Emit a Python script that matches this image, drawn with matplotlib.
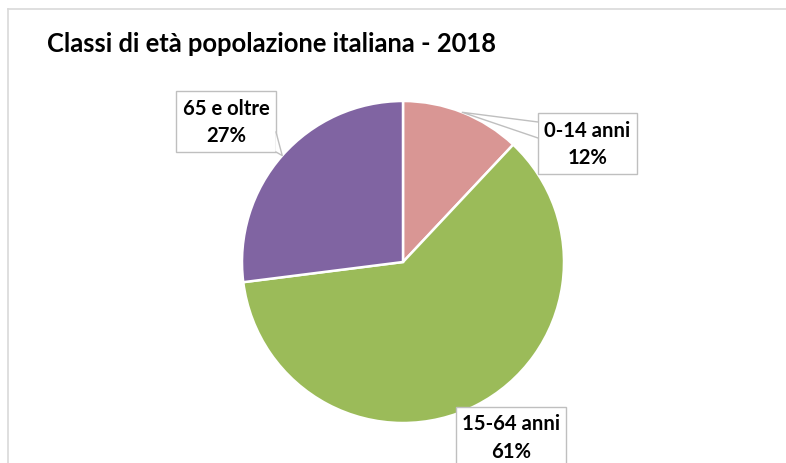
import numpy as np
import matplotlib

matplotlib.use("Agg")
import matplotlib.pyplot as plt
from matplotlib.patches import Rectangle, Polygon
from matplotlib.lines import Line2D

plt.rcParams["font.family"] = ["Lato", "DejaVu Sans"]

TITLE = "Classi di età popolazione italiana - 2018"
categories = ["0-14 anni", "15-64 anni", "65 e oltre"]
shares = [12, 61, 27]
colors = ["#D99694", "#9BBB59", "#8064A2"]

W, H = 786, 464
CX, CY, R = 403, 263, 161  # pie centre / radius in pixels

fig = plt.figure(figsize=(W / 100, H / 100), dpi=100)

# light chart frame (only top and left edges are visible)
fig.add_artist(Line2D([8 / W, 1], [1 - 10 / H, 1 - 10 / H], color="#D9D9D9", lw=1.2))
fig.add_artist(Line2D([8 / W, 8 / W], [0, 1 - 10 / H], color="#D9D9D9", lw=1.2))

fig.text(47 / W, 1 - 44 / H, TITLE, fontsize=18.4, fontweight="bold",
         ha="left", va="center", color="black")

ax = fig.add_axes([(CX - R) / W, (H - CY - R) / H, 2 * R / W, 2 * R / H])
wedges, _ = ax.pie(shares, colors=colors, startangle=90, counterclock=False,
                   wedgeprops=dict(edgecolor="white", linewidth=1.8))
ax.set_xlim(-1, 1)
ax.set_ylim(-1, 1)
ax.set_aspect("equal")
ax.axis("off")


def px(x, y):
    """pixel position -> pie data coords"""
    return (x - CX) / R, (CY - y) / R


# label boxes in pixels: left, top, right, bottom
boxes = {
    "0-14 anni": (538, 114, 637, 175),
    "15-64 anni": (456, 408, 566, 476),
    "65 e oltre": (176, 92, 276, 153),
}
# pointer base points on the box (pixels); None = no pointer
pointers = {
    "0-14 anni": ((538, 123), (538, 139)),
    "15-64 anni": None,
    "65 e oltre": ((276, 133), (276, 153)),
}

for w, cat, val in zip(wedges, categories, shares):
    l, t, r, b = boxes[cat]
    x0, y1 = px(l, t)
    x1, y0 = px(r, b)
    rect = Rectangle((x0, y0), x1 - x0, y1 - y0, facecolor="white",
                     edgecolor="#BFBFBF", lw=1.0, zorder=5, clip_on=False)
    ax.add_patch(rect)
    if pointers[cat] is not None:
        mid = np.deg2rad((w.theta1 + w.theta2) / 2)
        tip = (np.cos(mid), np.sin(mid))
        p1 = px(*pointers[cat][0])
        p2 = px(*pointers[cat][1])
        ax.add_patch(Polygon([p1, tip, p2], closed=True, facecolor="white",
                             edgecolor="none", zorder=6, clip_on=False))
        ax.add_line(Line2D([p1[0], tip[0], p2[0]], [p1[1], tip[1], p2[1]],
                           color="#BFBFBF", lw=1.0, zorder=7, clip_on=False))
    # the bottom box runs off the chart, so centre its text a bit higher
    ty = (y0 + y1) / 2 if b < H else px(0, 438)[1]
    ax.text((x0 + x1) / 2, ty, f"{cat}\n{val}%", ha="center", va="center",
            fontsize=14.6, fontweight="bold", linespacing=1.45, zorder=8,
            clip_on=False)

fig.savefig("out.png", dpi=100)
